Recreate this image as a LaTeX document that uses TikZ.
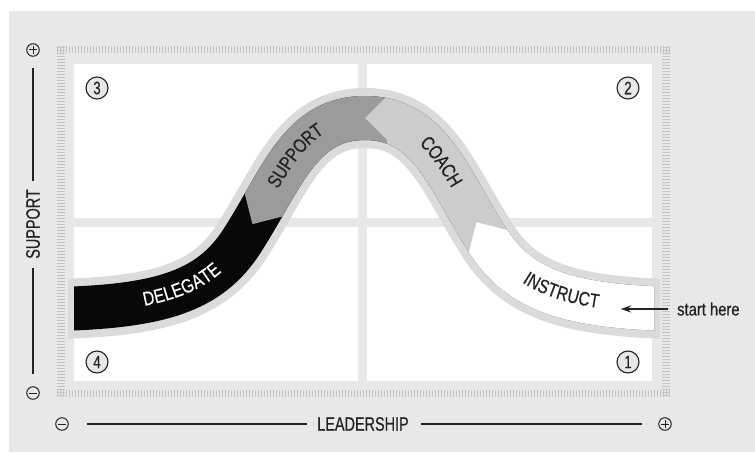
\documentclass[tikz,border=0pt]{standalone}
\usepackage{fontspec}
\usetikzlibrary{calc,decorations.text,arrows.meta}
\newfontfamily\cond{Liberation Sans}[FakeStretch=0.74,FakeBold=0.5]
\newfontfamily\condb{Liberation Sans}[FakeStretch=0.8,FakeBold=0.5]
\newfontfamily\condc{Liberation Sans}[FakeStretch=0.82,FakeBold=0.5]
\definecolor{bggray}{RGB}{232,232,232}
\definecolor{tickgray}{RGB}{195,195,195}
\definecolor{bandgray}{RGB}{219,219,219}
\definecolor{coachgray}{RGB}{204,204,204}
\definecolor{supportgray}{RGB}{155,155,155}
\definecolor{delegblack}{RGB}{8,8,8}
\definecolor{ink}{RGB}{35,35,35}
\newcommand\bandpath{(60,309) .. controls (160,306) and (209.6,291.4) .. (242,241) .. controls (282.5,178) and (300,118) .. (365,118) .. controls (430,118) and (447.5,178) .. (488,241) .. controls (520.4,291.4) and (570,306) .. (670,309)}
\newcommand\bandfont{\condb\fontsize{19.5}{19.5}\selectfont}
\begin{document}
\begin{tikzpicture}[x=1pt,y=-1pt,
  tickh/.style={tickgray, line width=7pt, dash pattern=on 1pt off 2pt},
  tickv/.style={tickgray, line width=8pt, dash pattern=on 1pt off 2pt},
  chev/.style={sloped, allow upside down, anchor=west, minimum width=22pt, minimum height=44pt, inner sep=0pt, outer sep=0pt, draw=none, shape=rectangle},
  chevbig/.style={chev, minimum height=150pt},
  num/.style={circle, draw=ink, line width=1.1pt, fill=bggray, minimum size=22pt, inner sep=0pt, font=\cond\fontsize{18}{18}\selectfont, text=ink},
  pm/.style={circle, draw=ink, line width=1pt, minimum size=12.5pt, inner sep=0pt},
  axisline/.style={ink, line width=1.2pt},
  lab/.style={font=\cond\fontsize{19.5}{19.5}\selectfont, text=ink, inner sep=0pt},
  bandlab/.style={decorate, decoration={text along path, raise=-4.5pt, text align={left indent=#1}}},
]
\useasboundingbox (0,0) rectangle (755,454);
\fill[white] (0,0) rectangle (755,454);
\fill[bggray] (9,11) rectangle (755,452);
% tick strips
\draw[tickh] (57,50) -- (670,50);
\draw[tickh] (57,393) -- (670,393);
\draw[tickv] (61,47) -- (61,396);
\draw[tickv] (666,47) -- (666,396);
% quadrants
\fill[white] (74,64) rectangle (358,218);
\fill[white] (367,64) rectangle (652,218);
\fill[white] (74,227) rectangle (358,381);
\fill[white] (367,227) rectangle (652,381);
% chevron frames
\path (60,309) .. controls (160,306) and (209.6,291.4) .. (242,241)
  .. controls (282.5,178) and (300,118) .. (365,118)
     node[chev, pos=0.09] (chS) {} node[chevbig, pos=0.09] (chSb) {}
  .. controls (430,118) and (447.5,178) .. (488,241)
     node[chev, pos=0] (chC) {} node[chevbig, pos=0] (chCb) {}
     node[chev, pos=0.9] (chI) {} node[chevbig, pos=0.9] (chIb) {}
  .. controls (520.4,291.4) and (570,306) .. (670,309);
% band border
\begin{scope}
  \clip (68,0) rectangle (660,454);
  \draw[bandgray, line width=60pt] \bandpath;
\end{scope}
\begin{scope}
  \clip (74,0) rectangle (654,454);
  \draw[delegblack, line width=44pt] \bandpath;
  \begin{scope}
    \clip (chS.west) -- (chS.north east) -- (chSb.north east) -- ++(0,-500) -- (950,-300) -- (950,800) -- ($(chSb.south east)+(0,500)$) -- (chSb.south east) -- (chS.south east) -- cycle;
    \draw[supportgray, line width=44pt] \bandpath;
  \end{scope}
  \begin{scope}
    \clip (chC.west) -- (chC.north east) -- (chCb.north east) -- ++(0,-500) -- (950,-300) -- (950,800) -- ($(chCb.south east)+(0,500)$) -- (chCb.south east) -- (chC.south east) -- cycle;
    \draw[coachgray, line width=44pt] \bandpath;
  \end{scope}
  \begin{scope}
    \clip (chI.west) -- (chI.north east) -- (chIb.north east) -- ++(0,-500) -- (950,-300) -- (950,800) -- ($(chIb.south east)+(0,500)$) -- (chIb.south east) -- (chI.south east) -- cycle;
    \draw[white, line width=44pt] \bandpath;
  \end{scope}
\end{scope}
% band labels
\path[bandlab=84pt, decoration={text={|\bandfont\color{white}|DELEGATE}}] \bandpath;
\path[bandlab=266pt, decoration={text={|\bandfont\color{ink}|SUPPORT}}] \bandpath;
\path[bandlab=450pt, decoration={text={|\bandfont\color{ink}|COACH}}] \bandpath;
\path[bandlab=623pt, decoration={text={|\bandfont\color{ink}|INSTRUCT}}] \bandpath;
% quadrant numbers
\node[num] (q3) at (97,88) {3};
\node[num] (q2) at (628,88) {2};
\node[num] (q4) at (97,362) {4};
\node[num] (q1) at (628,362) {1};
% vertical axis
\node[pm] (vplus) at (33,50) {};
\draw[ink, line width=1pt] ($(vplus.center)+(-3.6,0)$) -- ($(vplus.center)+(3.6,0)$) ($(vplus.center)+(0,-3.6)$) -- ($(vplus.center)+(0,3.6)$);
\node[pm] (vminus) at (33,393) {};
\draw[ink, line width=1pt] ($(vminus.center)+(-3.6,0)$) -- ($(vminus.center)+(3.6,0)$);
\node[lab, rotate=90] (supp) at (33,224) {SUPPORT};
\coordinate (v1) at (33,68);
\coordinate (v2) at (33,181);
\coordinate (v3) at (33,268);
\coordinate (v4) at (33,374);
\draw[axisline] (v1) -- (v2) (v3) -- (v4);
% horizontal axis
\node[pm] (hminus) at (62,424) {};
\draw[ink, line width=1pt] ($(hminus.center)+(-3.6,0)$) -- ($(hminus.center)+(3.6,0)$);
\node[pm] (hplus) at (665,424) {};
\draw[ink, line width=1pt] ($(hplus.center)+(-3.6,0)$) -- ($(hplus.center)+(3.6,0)$) ($(hplus.center)+(0,-3.6)$) -- ($(hplus.center)+(0,3.6)$);
\node[lab] (lead) at (363,424) {LEADERSHIP};
\coordinate (h1) at (87,424);
\coordinate (h2) at (307,424);
\coordinate (h3) at (421,424);
\coordinate (h4) at (642,424);
\draw[axisline] (h1) -- (h2) (h3) -- (h4);
% start here
\node[lab, font=\condc\fontsize{18}{18}\selectfont, anchor=west] (sh) at (677,309) {start here};
\coordinate (arrE) at (621,309);
\draw[ink, line width=1.3pt, -{Stealth[length=10pt, width=7pt]}] ([xshift=-9pt]sh.west) -- (arrE);
\end{tikzpicture}
\end{document}
